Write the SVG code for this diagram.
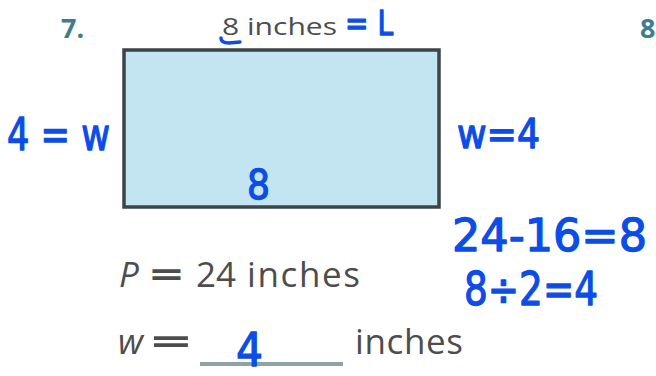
<svg xmlns="http://www.w3.org/2000/svg" width="656" height="376" viewBox="0 0 656 376">
<style>
.print{font-family:"Open Sans","Liberation Sans",sans-serif;fill:#4d4d4d}
.hand{font-family:"DejaVu Sans","Liberation Sans",sans-serif;fill:#0b4de6;stroke:#0b4de6;stroke-width:1.3;stroke-linejoin:round}
.num{font-family:"Open Sans","Liberation Sans",sans-serif;font-weight:bold;fill:#3f7c90}
</style>
<rect width="656" height="376" fill="#ffffff"/>
<text class="num" x="61" y="38" font-size="27">7.</text>
<text class="num" x="640" y="38" font-size="27">8</text>
<g id="rectangle">
<rect x="124" y="50" width="315" height="157" fill="#c3e5f2" stroke="#3b4448" stroke-width="3.5"/>
</g>
<g id="top-label">
<text class="print" x="222" y="35" font-size="24" textLength="115" lengthAdjust="spacingAndGlyphs" fill="#606060">8 inches</text>
<path d="M221 38 Q221 43 229 43 L240 42" fill="none" stroke="#0b4de6" stroke-width="3.5" stroke-linecap="round"/>
<text class="hand" x="345" y="35" font-size="34" textLength="48" lengthAdjust="spacingAndGlyphs">= L</text>
</g>
<text class="hand" x="7" y="150" font-size="44" textLength="103" lengthAdjust="spacingAndGlyphs">4 = w</text>
<text class="hand" x="457" y="148" font-size="40" textLength="83" lengthAdjust="spacingAndGlyphs">w=4</text>
<text class="hand" x="247" y="199" font-size="40" textLength="23" lengthAdjust="spacingAndGlyphs">8</text>
<text class="hand" x="452" y="251" font-size="45" textLength="195" lengthAdjust="spacingAndGlyphs">24-16=8</text>
<text class="hand" x="464" y="305" font-size="46" textLength="134" lengthAdjust="spacingAndGlyphs">8÷2=4</text>
<g id="perimeter">
<text class="print" x="119" y="287" font-size="35" font-style="italic">P</text>
<text class="print" x="150" y="287" font-size="35" font-weight="bold" textLength="33" lengthAdjust="spacingAndGlyphs">=</text>
<text class="print" x="196" y="287" font-size="35">24</text>
<text class="print" x="247" y="287" font-size="35" textLength="113" lengthAdjust="spacing">inches</text>
</g>
<g id="width">
<text class="print" x="118" y="354" font-size="35" font-style="italic">w</text>
<text class="print" x="151" y="354" font-size="35" font-weight="bold" textLength="40" lengthAdjust="spacingAndGlyphs">=</text>
<line x1="200" y1="364" x2="343" y2="364" stroke="#8ea3a8" stroke-width="4"/>
<text class="hand" x="236" y="366" font-size="46" textLength="27" lengthAdjust="spacingAndGlyphs">4</text>
<text class="print" x="355" y="354" font-size="35" textLength="108" lengthAdjust="spacing">inches</text>
</g>
</svg>
